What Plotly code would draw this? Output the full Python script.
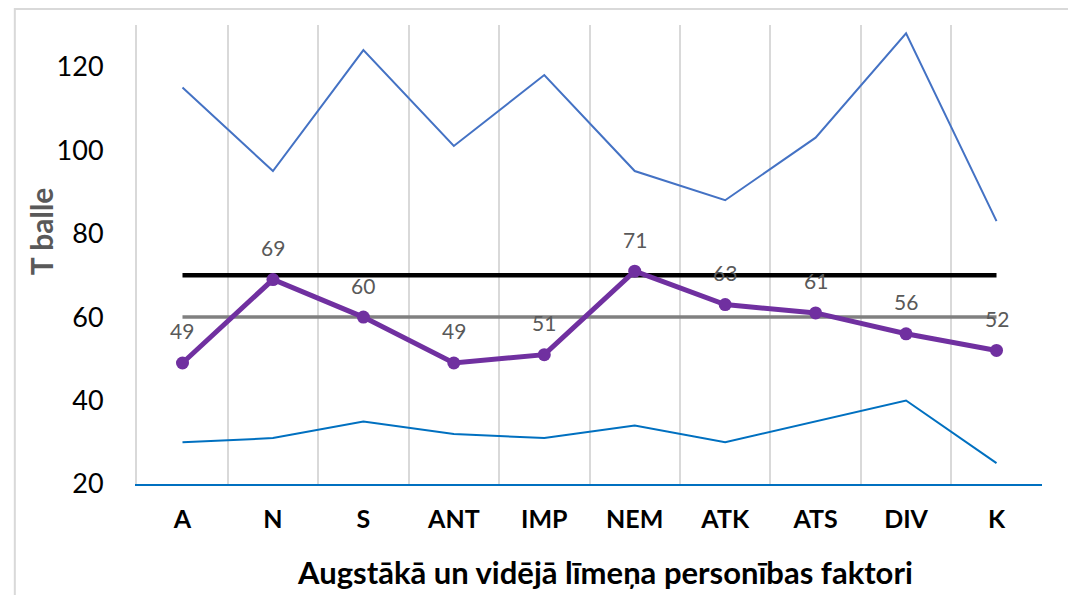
import plotly.graph_objects as go

categories = ["A", "N", "S", "ANT", "IMP", "NEM", "ATK", "ATS", "DIV", "K"]
upper = [115, 95, 124, 101, 118, 95, 88, 103, 128, 83]
lower = [30, 31, 35, 32, 31, 34, 30, 35, 40, 25]
scores = [49, 69, 60, 49, 51, 71, 63, 61, 56, 52]
high_level = 70
mid_level = 60
y_ticks = [20, 40, 60, 80, 100, 120]
x_title = "Augstākā un vidējā līmeņa personības faktori"
y_title = "T balle"

FONT = "Lato, Carlito, Calibri, sans-serif"

fig = go.Figure()
fig.add_trace(go.Scatter(x=categories, y=upper, mode="lines",
                         line=dict(color="#4472C4", width=2), hoverinfo="skip"))
fig.add_trace(go.Scatter(x=categories, y=lower, mode="lines",
                         line=dict(color="#0070C0", width=2), hoverinfo="skip"))
fig.add_trace(go.Scatter(x=categories, y=[mid_level] * len(categories), mode="lines",
                         line=dict(color="#808080", width=3.5), hoverinfo="skip"))
fig.add_trace(go.Scatter(x=categories, y=[high_level] * len(categories), mode="lines",
                         line=dict(color="#000000", width=4.5), hoverinfo="skip"))
fig.add_trace(go.Scatter(x=categories, y=scores, mode="lines+markers",
                         line=dict(color="#7030A0", width=5),
                         marker=dict(color="#7030A0", size=13),
                         hoverinfo="skip"))

# data labels above the purple points
for c, v in zip(categories, scores):
    fig.add_annotation(x=c, y=v, text=str(v), showarrow=False, yshift=32,
                       font=dict(color="#595959", size=21, family=FONT))

# axis titles
fig.add_annotation(xref="paper", yref="paper", x=0.517, y=-0.191,
                   xanchor="center", yanchor="middle", showarrow=False,
                   text=f"<b>{x_title}</b>",
                   font=dict(size=31, family=FONT, color="#000000"))
fig.add_annotation(xref="paper", yref="paper", x=-0.106, y=0.551,
                   xanchor="center", yanchor="middle", showarrow=False, textangle=-90,
                   text=f"<b>{y_title}</b>",
                   font=dict(size=30, family=FONT, color="#595959"))

# page body adds an 8px offset; margins compensate so the plot area lands at x 137-1042, y 25-484
fig.update_layout(
    width=1076, height=595,
    margin=dict(l=129, r=42, t=17, b=119, autoexpand=False),
    paper_bgcolor="white", plot_bgcolor="white",
    showlegend=False,
    font=dict(family=FONT, color="#000000"),
    xaxis=dict(
        type="category", range=[-0.503, 9.503], tickson="boundaries",
        showgrid=True, gridcolor="#D9D9D9", gridwidth=2,
        ticks="", ticklen=0, ticklabelstandoff=12,
        tickfont=dict(size=25, family=FONT, color="#000000", weight="bold"),
        showline=True, linecolor="#0070C0", linewidth=2,
        zeroline=False,
    ),
    yaxis=dict(
        range=[20, 130], tickvals=y_ticks, showgrid=False, zeroline=False,
        showline=True, linecolor="#D9D9D9", linewidth=2,
        ticks="", ticklabelstandoff=26,
        tickfont=dict(size=27, family=FONT, color="#000000"),
    ),
    shapes=[dict(type="rect", xref="paper", yref="paper",
                 x0=-0.135, x1=1.2, y0=-0.3, y1=1.035,
                 line=dict(color="#D9D9D9", width=2), fillcolor="rgba(0,0,0,0)",
                 layer="below")],
)

fig.write_html("out.html")
